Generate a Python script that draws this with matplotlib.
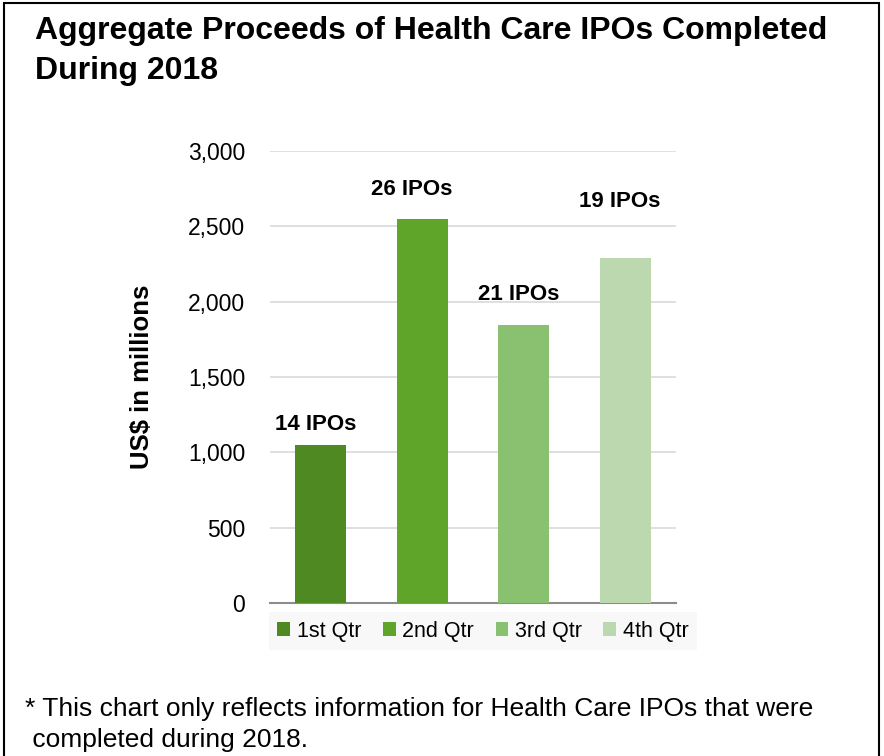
import matplotlib
matplotlib.use("Agg")
import matplotlib.pyplot as plt
from matplotlib.patches import Rectangle

plt.rcParams['font.family'] = ['Liberation Sans', 'DejaVu Sans']

quarters = ["1st Qtr", "2nd Qtr", "3rd Qtr", "4th Qtr"]
proceeds = [1048, 2548, 1845, 2289]
ipo_labels = ["14 IPOs", "26 IPOs", "21 IPOs", "19 IPOs"]
label_y = [1188, 2747, 2050, 2668]
label_dx = [-0.05, -0.1, -0.05, -0.05]
colors = ["#4E8A21", "#5FA52A", "#8AC170", "#BBD8AE"]
yticks = [0, 500, 1000, 1500, 2000, 2500, 3000]

W, H = 884, 756
fig = plt.figure(figsize=(W/100, H/100), dpi=100)

# outer frame
fig.patches.append(Rectangle((4/W, -0.01), (879-4)/W, 1 - 3/H + 0.01, transform=fig.transFigure,
                             fill=False, edgecolor="black", linewidth=1.5))

ax = fig.add_axes([270/W, 1 - 603/H, (676-270)/W, (603-151)/H])
x = list(range(len(quarters)))
bars = ax.bar(x, proceeds, width=0.5, color=colors, zorder=3)
for xi, ly, dx, lab in zip(x, label_y, label_dx, ipo_labels):
    ax.text(xi + dx, ly, lab, ha="center", va="center", fontsize=16, fontweight="bold")
ax.set_xlim(-0.5, 3.5)
ax.set_ylim(0, 3000)
ax.set_yticks(yticks)
ax.set_yticklabels([f"{t:,}" for t in yticks], fontsize=16.5)
ax.set_xticks([])
ax.tick_params(axis="y", length=0, pad=18)
ax.grid(axis="y", color="#D9D9D9", linewidth=1.2, zorder=0)
for s in ["top", "right", "left"]:
    ax.spines[s].set_visible(False)
ax.spines["bottom"].set_color("#8C8C8C")
ax.spines["bottom"].set_linewidth(1.5)
ax.set_ylabel("US$ in millions", fontsize=18.5, fontweight="bold", labelpad=24)

leg = fig.legend(bars, quarters, loc="center", bbox_to_anchor=(483/W, 1 - 631/H),
                 ncol=4, frameon=True, fontsize=15.5, handlelength=0.6, handleheight=0.6,
                 handletextpad=0.3, columnspacing=1.0, borderpad=0.4, fancybox=False)
leg.get_frame().set_facecolor("#F7F7F7")
leg.get_frame().set_edgecolor("none")

fig.text(35/W, 1 - 31/H, "Aggregate Proceeds of Health Care IPOs Completed", fontsize=23,
         fontweight="bold", va="center", ha="left")
fig.text(35/W, 1 - 71/H, "During 2018", fontsize=23, fontweight="bold", va="center", ha="left")
fig.text(25/W, 1 - 709/H, "* This chart only reflects information for Health Care IPOs that were",
         fontsize=19, va="center", ha="left")
fig.text(25/W, 1 - 740/H, " completed during 2018.", fontsize=19, va="center", ha="left")

fig.savefig("out.png", dpi=100)
